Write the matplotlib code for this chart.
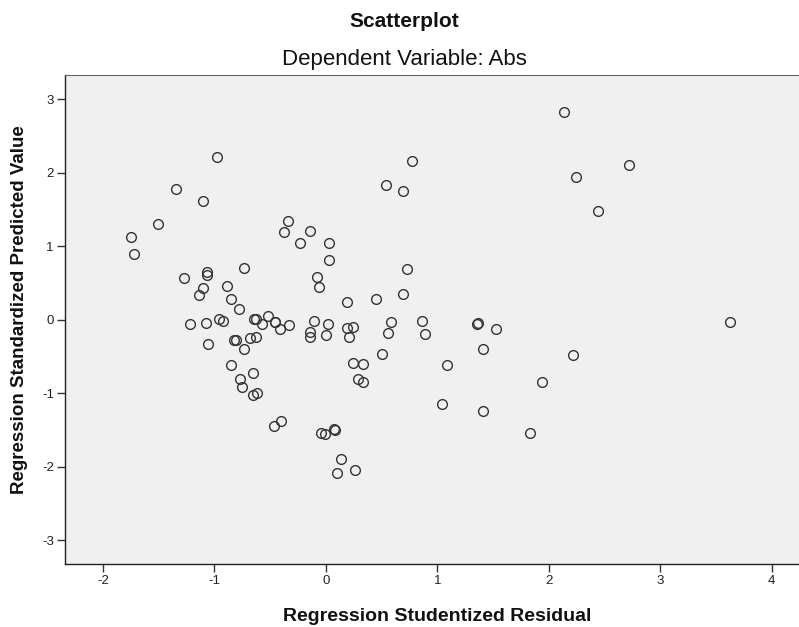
import matplotlib
matplotlib.use("Agg")
import matplotlib.pyplot as plt

plt.rcParams['font.family'] = ['Liberation Sans', 'DejaVu Sans']
plt.rcParams['axes.unicode_minus'] = False

# Regression studentized residual (x) vs standardized predicted value (y)
resid = [-0.976, -1.344, -1.101, -1.506, -1.746, -1.719, -1.27, -1.066, -1.066,
         -1.101, -1.141, -0.886, -0.847, -0.781, -0.730, -0.341, -0.371, -0.144,
         -0.234, 0.03, 0.03, -0.077, -0.063, 0.192, 2.136, 0.77, 0.536, 0.695,
         2.243, 2.438, 0.449, 0.695, 0.728, 2.717, -1.222, -1.075, -0.961, -0.922,
         -0.641, -0.625, -0.575, -0.521, -0.458, -0.452, -0.413, -0.329, -0.107,
         -0.144, -0.144, 0.021, 0.006, 0.192, 0.243, 0.21, 0.246, 0.33, 0.288,
         0.33, -1.06, -0.82, -0.81, -0.737, -0.677, -0.623, -0.85, -0.656, -0.773,
         -0.751, -0.656, -0.616, -0.467, -0.401, -0.041, -0.009, 0.072, 0.078,
         0.138, 0.102, 0.261, 0.581, 0.557, 0.86, 0.89, 0.5, 1.091, 1.042, 1.36,
         1.365, 1.525, 1.411, 1.411, 2.217, 1.938, 1.827, 3.624]
pred = [2.22, 1.78, 1.615, 1.31, 1.133, 0.894, 0.567, 0.657, 0.612,
        0.431, 0.336, 0.463, 0.28, 0.145, 0.707, 1.351, 1.193, 1.215,
        1.048, 1.048, 0.816, 0.589, 0.445, 0.241, 2.826, 2.163, 1.837, 1.75,
        1.941, 1.487, 0.282, 0.35, 0.698, 2.104, -0.059, -0.045, 0.014, -0.014,
        0.014, 0.014, -0.059, 0.059, -0.023, -0.03, -0.127, -0.068, -0.009,
        -0.159, -0.227, -0.059, -0.204, -0.113, -0.099, -0.227, -0.59, -0.599, -0.807,
        -0.839, -0.327, -0.272, -0.275, -0.399, -0.24, -0.236, -0.617, -0.726, -0.798,
        -0.916, -1.02, -0.989, -1.442, -1.37, -1.533, -1.555, -1.487, -1.495,
        -1.887, -2.077, -2.04, -0.023, -0.172, -0.009, -0.195, -0.467, -0.612, -1.143, -0.05,
        -0.045, -0.118, -0.399, -1.242, -0.472, -0.848, -1.537, -0.023]

xticks = [-2, -1, 0, 1, 2, 3, 4]
yticks = [-3, -2, -1, 0, 1, 2, 3]

fig = plt.figure(figsize=(7.99, 6.27), dpi=100)
ax = fig.add_axes([0.0814, 0.1, 0.925, 0.7809])
ax.set_facecolor('#f0f0f0')

ax.plot(resid, pred, 'o', markersize=7, markerfacecolor='none',
        markeredgecolor='#333333', markeredgewidth=1.0)

ax.set_xlim(-2.339, 4.29)
ax.set_ylim(-3.324, 3.337)
ax.set_xticks(xticks)
ax.set_yticks(yticks)
ax.tick_params(length=5.5, width=1, color='#333333', labelsize=9.5,
               labelcolor='#222222', pad=2.5)

for s in ['left', 'bottom']:
    ax.spines[s].set_color('#222222')
    ax.spines[s].set_linewidth(1)
ax.spines['top'].set_color('#666666')
ax.spines['right'].set_visible(False)

fig.text(404 / 799, 1 - 26.7 / 627, 'Scatterplot', ha='center', va='baseline',
         fontsize=15, fontweight='bold', color='#111111')
fig.text(404 / 799, 1 - 65 / 627, 'Dependent Variable: Abs', ha='center',
         va='baseline', fontsize=16, color='#111111')
fig.text(437.5 / 799, 1 - 621 / 627, 'Regression Studentized Residual',
         ha='center', va='baseline', fontsize=14, fontweight='bold', color='#111111')
fig.text(20 / 799, 1 - 310 / 627, 'Regression Standardized Predicted Value',
         ha='center', va='center', rotation=90, fontsize=13.5, fontweight='bold',
         color='#111111')

fig.savefig('out.png', dpi=100)
